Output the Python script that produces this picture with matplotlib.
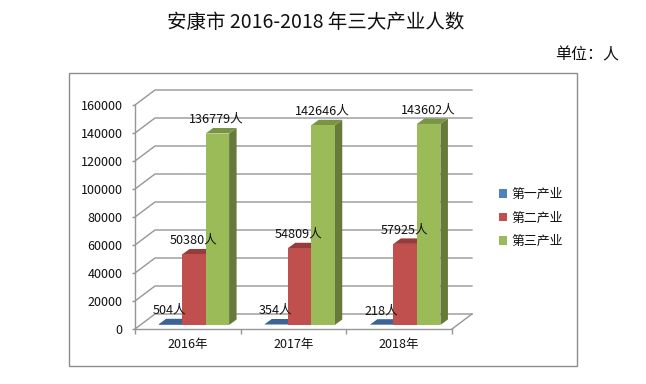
import matplotlib
matplotlib.use("Agg")
import matplotlib.pyplot as plt
from matplotlib.patches import Polygon, Rectangle, Patch

plt.rcParams['font.family'] = ['Noto Sans CJK SC', 'DejaVu Sans']

title = "安康市 2016-2018 年三大产业人数"
unit = "单位：人"
categories = ["2016年", "2017年", "2018年"]
series_names = ["第一产业", "第二产业", "第三产业"]
primary = [504, 354, 218]
secondary = [50380, 54809, 57925]
tertiary = [136779, 142646, 143602]
series_values = [primary, secondary, tertiary]
y_ticks = [0, 20000, 40000, 60000, 80000, 100000, 120000, 140000, 160000]

front_colors = ["#4F81BD", "#C0504D", "#9BBB59"]
top_colors = ["#3B6395", "#963D3B", "#7A9446"]
side_colors = ["#2F5078", "#7A3230", "#667A3A"]
grid_color = "#969696"
text_color = "#111111"

W, H = 646, 384
fig = plt.figure(figsize=(W / 100, H / 100), dpi=100, facecolor="white")
L, R, T, B = 135, 452, 105, 329
ax = fig.add_axes([L / W, (H - B) / H, (R - L) / W, (B - T) / H])
ax.set_xlim(0, len(categories))
ax.set_ylim(0, 160000)
ax.patch.set_visible(False)

ux = len(categories) / (R - L)     # data units per pixel, x
uy = 160000 / (B - T)              # data units per pixel, y
wall_dx, wall_dy = 20 * ux, 15 * uy

# chart frame
fig.add_artist(Rectangle((69 / W, (H - 366) / H), (577 - 69) / W, (366 - 73) / H,
                         transform=fig.transFigure, fill=False, edgecolor="#8C8C8C", lw=1.0))

# walls and floor
for v in y_ticks:
    ax.plot([0, wall_dx, 3 + wall_dx], [v, v + wall_dy, v + wall_dy],
            color=grid_color, lw=1.0, clip_on=False, zorder=1)
ax.plot([3, 3 + wall_dx], [0, wall_dy], color=grid_color, lw=1.0, clip_on=False, zorder=1)

# bars with depth
bar_w = 23.5 * ux
front_dx, front_dy = 6 * ux, 4 * uy
depth_dx, depth_dy = 7.5 * ux, 5.5 * uy
for s, values in enumerate(series_values):
    for c, v in enumerate(values):
        x0 = c + 0.5 + (s - 1.5) * bar_w + front_dx
        x1 = x0 + bar_w
        y0 = front_dy
        y1 = v + front_dy
        z = 3 + s
        ax.bar(x0, v, bottom=y0, width=bar_w, align="edge", color=front_colors[s],
               linewidth=0, clip_on=False, zorder=z + 0.2)
        ax.add_patch(Polygon([(x0, y1), (x1, y1), (x1 + depth_dx, y1 + depth_dy),
                              (x0 + depth_dx, y1 + depth_dy)],
                             closed=True, facecolor=top_colors[s], edgecolor="none",
                             clip_on=False, zorder=z + 0.1))
        ax.add_patch(Polygon([(x1, y0), (x1 + depth_dx, y0 + depth_dy),
                              (x1 + depth_dx, y1 + depth_dy), (x1, y1)],
                             closed=True, facecolor=side_colors[s], edgecolor="none",
                             clip_on=False, zorder=z))
        ax.annotate(f"{v}人", (x0 + bar_w / 2, y1), xytext=(-0.5, 10.2),
                    textcoords="offset points", ha="center", va="center",
                    fontsize=9.1, color=text_color, zorder=10, annotation_clip=False)

# axes
for name in ("top", "right"):
    ax.spines[name].set_visible(False)
for name in ("left", "bottom"):
    ax.spines[name].set_color(grid_color)
    ax.spines[name].set_linewidth(1.0)
ax.set_yticks(y_ticks)
ax.set_yticklabels([str(v) for v in y_ticks], fontsize=9, color=text_color)
ax.tick_params(axis="y", length=2, width=1, color=grid_color, pad=7)
ax.set_xticks(range(len(categories) + 1))
ax.set_xticklabels([""] * (len(categories) + 1))
ax.tick_params(axis="x", which="major", length=3.5, width=1, color=grid_color)
ax.set_xticks([i + 0.5 for i in range(len(categories))], minor=True)
ax.set_xticklabels(categories, minor=True, fontsize=9, color=text_color)
ax.tick_params(axis="x", which="minor", length=0, pad=6.5)

# legend
handles = [Patch(facecolor=c, edgecolor="none", label=n) for c, n in zip(front_colors, series_names)]
fig.legend(handles=handles, loc="center left", bbox_to_anchor=(499 / W, (H - 218) / H),
           frameon=False, fontsize=9.3, labelcolor=text_color, handlelength=0.63, handleheight=0.63,
           handletextpad=0.3, labelspacing=0.8, borderpad=0, borderaxespad=0)

fig.text(316 / W, (H - 23) / H, title, ha="center", va="center", fontsize=14, color="#111111")
fig.text(619 / W, (H - 55) / H, unit, ha="right", va="center", fontsize=11.5, color="#111111")

fig.savefig("out.png", dpi=100, facecolor="white")
